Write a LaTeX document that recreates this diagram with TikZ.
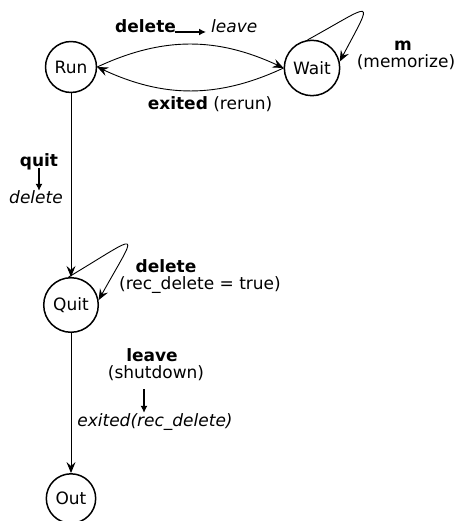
\documentclass[tikz,border=0pt]{standalone}
\usepackage{fontspec}
\setmainfont{DejaVu Sans}
\usetikzlibrary{arrows.meta}
\newcommand{\diagfont}{\fontsize{17pt}{20pt}\selectfont}
\begin{document}
\begin{tikzpicture}[x=1pt,y=1pt,
  state/.style={circle, draw, line width=1.5pt, inner sep=6pt, minimum size=47pt, font=\diagfont},
  edge/.style={line width=0.9pt, -{Stealth[length=11pt,width=9pt,inset=4pt]}},
  lbl/.style={inner sep=0pt, anchor=base, font=\diagfont},
  cue/.style={line width=2.4pt, -{Latex[length=7pt,width=7pt]}}]
\useasboundingbox (0,0) rectangle (460,521);

% states
\node[state] (run)  at (71,454)  {Run};
\node[state] (wait) at (312,453) {Wait};
\node[state] (quit) at (71,216)  {Quit};
\node[state] (out)  at (71,22.5) {Out};

% transitions
\draw[edge] (run.east) to[out=25,in=155] (wait.west);
\draw[edge] (wait.west) to[out=-155,in=-25] (run.east);
\draw[edge] (wait.99) .. controls +(67,37) and +(35,66) .. (wait.13);
\draw[edge] (run) -- (quit);
\draw[edge] (quit.95) .. controls +(75,45) and +(40,72) .. (quit.10);
\draw[edge] (quit) -- (out);

% Run -> Wait label
\node[lbl, anchor=base west] (dl) at (115,488) {\textbf{delete}};
\node[lbl, anchor=base west] (lv) at (211,488) {\textit{leave}};
\draw[cue] ([xshift=-1pt,yshift=1pt]dl.base east) -- ([xshift=-5pt,yshift=1pt]lv.base west);

% Wait -> Run label
\node[lbl] (ex) at (210,411) {\textbf{exited} (rerun)};

% Wait loop label
\node[lbl] (mk) at (403,470) {\textbf{m}};
\node[lbl] (mm) at (406,453) {(memorize)};

% Run -> Quit label
\node[lbl] (qt) at (39,354) {\textbf{quit}};
\node[lbl] (qd) at (36,317) {\textit{delete}};
\draw[cue] ([yshift=-1pt]qt.base) -- (qt.base |- qd.north);

% Quit loop label
\node[lbl] (qdl) at (166,248) {\textbf{delete}};
\node[lbl] (qrc) at (200,231) {(rec\_delete = true)};

% Quit -> Out label
\node[lbl] (lvb) at (152,159) {\textbf{leave}};
\node[lbl] (sd)  at (156,142) {(shutdown)};
\node[lbl] (exr) at (155,94)  {\textit{exited(rec\_delete)}};
\coordinate (cuetop) at ([xshift=-12pt,yshift=-8pt]sd.south);
\draw[cue] (cuetop) -- ([yshift=1pt]cuetop |- exr.north);
\end{tikzpicture}
\end{document}
